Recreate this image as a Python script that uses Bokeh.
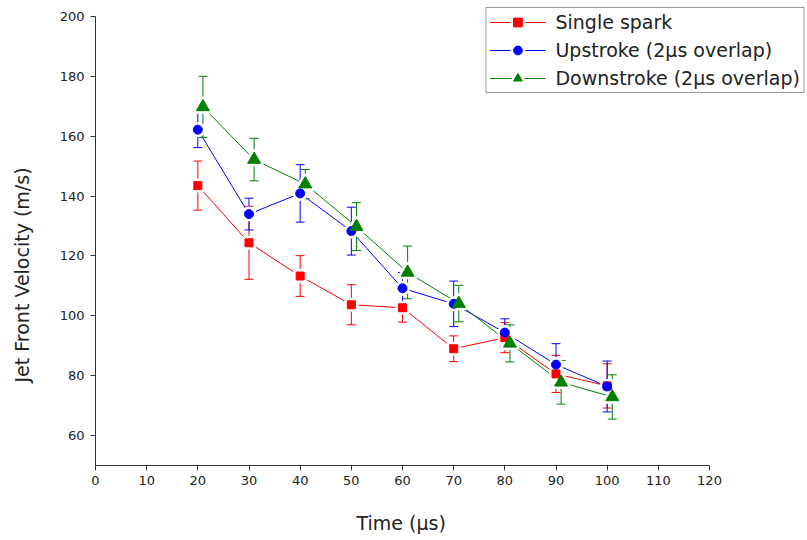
from bokeh.plotting import figure
from bokeh.models import Range1d, FixedTicker, Legend, LegendItem, Title, ColumnDataSource
from bokeh.embed import file_html
from bokeh.resources import INLINE

# ---- data ----
time_single = [20, 30, 40, 50, 60, 70, 80, 90, 100]
single_spark = [143.5, 124.4, 113.3, 103.7, 102.7, 89.0, 92.7, 80.6, 76.6]
single_err = [8.2, 12.2, 6.8, 6.7, 4.8, 4.3, 5.0, 6.2, 7.4]

time_up = [20, 30, 40, 50, 60, 70, 80, 90, 100]
upstroke = [162.2, 134.0, 140.9, 128.3, 109.2, 104.0, 94.4, 83.7, 76.4]
up_err = [6.0, 5.3, 9.6, 8.0, 5.3, 7.6, 4.6, 7.0, 8.5]

time_down = [21, 31, 41, 51, 61, 71, 81, 91, 101]
downstroke = [169.8, 152.2, 144.0, 129.8, 114.5, 104.1, 90.8, 77.8, 72.9]
down_err = [10.2, 7.1, 4.9, 8.0, 8.8, 6.1, 6.2, 7.3, 7.4]

labels = ["Single spark", "Upstroke (2\u03bcs overlap)", "Downstroke (2\u03bcs overlap)"]
x_ticks = list(range(0, 121, 10))
y_ticks = list(range(60, 201, 20))
x_title = "Time (\u03bcs)"
y_title = "Jet Front Velocity (m/s)"

FONT = "DejaVu Sans"
AX = "#333333"
TXT = "#222222"

# frame is widened to the right/top so the legend box fits inside it;
# the axes themselves are limited to 0..120 and 50..200 through their bounds
p = figure(width=805, height=538, output_backend="svg", toolbar_location=None,
           x_range=Range1d(0, 138.76), y_range=Range1d(50, 203.34),
           min_border_left=95, min_border_right=0, min_border_top=6,
           min_border_bottom=73)
p.outline_line_color = None
p.grid.visible = False
p.background_fill_color = "white"
p.border_fill_color = "white"

for ax in (p.xaxis[0], p.yaxis[0]):
    ax.axis_line_color = AX
    ax.major_tick_line_color = AX
    ax.major_tick_out = 5
    ax.major_tick_in = 0
    ax.minor_tick_out = 0
    ax.minor_tick_in = 0
    ax.major_label_text_font = FONT
    ax.major_label_text_font_size = "13px"
    ax.major_label_text_color = TXT
p.xaxis.ticker = FixedTicker(ticks=x_ticks)
p.yaxis.ticker = FixedTicker(ticks=y_ticks)
p.xaxis.bounds = (0, 120)
p.yaxis.bounds = (50, 200)
p.xaxis.major_label_standoff = 5
p.yaxis.major_label_standoff = 6

series = [
    (time_single, single_spark, single_err, "#FF0000", "square", 8),
    (time_up, upstroke, up_err, "#0000FF", "circle", 9),
    (time_down, downstroke, down_err, "#008000", "triangle", 13),
]

sources, lines = [], []
for t, v, e, c, m, s in series:
    src = ColumnDataSource(dict(x=t, y=v,
                                lo=[a - b for a, b in zip(v, e)],
                                hi=[a + b for a, b in zip(v, e)]))
    sources.append(src)
    lines.append(p.line("x", "y", source=src, line_color=c, line_width=1))
    p.segment(x0="x", y0="lo", x1="x", y1="hi", source=src, line_color=c, line_width=1)
    p.scatter("x", "lo", source=src, marker="dash", size=9, line_color=c, line_width=1)
    p.scatter("x", "hi", source=src, marker="dash", size=9, line_color=c, line_width=1)

halos = []
for src, (t, v, e, c, m, s) in zip(sources, series):
    halos.append(p.scatter("x", "y", source=src, marker=m, size=s, fill_color="white",
                           line_color="white", line_width=6, line_join="round"))

marks = []
for src, (t, v, e, c, m, s) in zip(sources, series):
    marks.append(p.scatter("x", "y", source=src, marker=m, size=s, fill_color=c,
                           line_color=c, line_width=1))

items = [LegendItem(label=lab, renderers=[l, h, mk])
         for lab, l, h, mk in zip(labels, lines, halos, marks)]
legend = Legend(items=items, location="top_right", padding=3, spacing=6,
                glyph_width=56, glyph_height=22, label_height=22, label_standoff=10,
                margin=1, border_line_color=AX, border_line_width=1,
                background_fill_color="white", background_fill_alpha=1,
                label_text_font=FONT, label_text_font_size="19px", label_text_color=TXT)
p.add_layout(legend)

# spacer titles between the axes and the axis titles
p.add_layout(Title(text=" ", text_font_size="1px", standoff=20), "below")
p.add_layout(Title(text=x_title, align="left", offset=261, vertical_align="middle",
                   standoff=0, text_font=FONT, text_font_size="19px",
                   text_font_style="normal", text_color=TXT), "below")
p.add_layout(Title(text=" ", text_font_size="1px", standoff=20), "left")
p.add_layout(Title(text=y_title, align="left", offset=83, vertical_align="middle",
                   standoff=0, text_font=FONT, text_font_size="19px",
                   text_font_style="normal", text_color=TXT), "left")

open("out.html", "w").write(file_html(p, INLINE))
